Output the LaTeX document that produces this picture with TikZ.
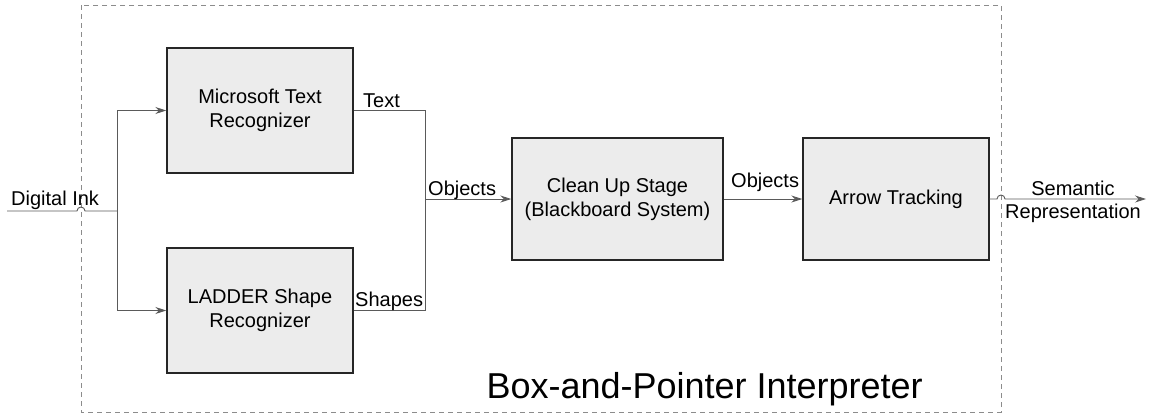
\documentclass[tikz,border=0pt]{standalone}
\usepackage{fontspec}
\setmainfont{Liberation Sans}
\usetikzlibrary{arrows.meta}
\definecolor{boxfill}{HTML}{ECECEC}
\definecolor{wire}{HTML}{5A5A5A}
\definecolor{frameline}{HTML}{8C8C8C}
\tikzset{
  stage/.style={draw=black!85, line width=1.4pt, fill=boxfill, align=center,
    font=\fontsize{20}{24}\selectfont, inner sep=0pt},
  wireline/.style={draw=wire, line width=0.9pt},
  flow/.style={wireline, -{Stealth[length=11pt,width=7pt]}},
  tag/.style={inner sep=0pt, anchor=base west, font=\fontsize{20}{24}\selectfont},
  frame/.style={draw=frameline, line width=0.8pt, dash pattern=on 5pt off 4pt}
}
\begin{document}
\begin{tikzpicture}[x=1pt,y=-1pt]
\useasboundingbox (0,0) rectangle (1151,416);

% enclosing interpreter boundary
\draw[frame] (81,5) rectangle (1001,412);
\node[anchor=base east, inner sep=0pt, font=\fontsize{36}{40}\selectfont] (title) at (923,398) {Box-and-Pointer Interpreter};

% processing stages
\node[stage, minimum width=186pt, minimum height=125pt] (ms) at (260,110.5) {Microsoft Text\\Recognizer};
\node[stage, minimum width=186pt, minimum height=125pt] (ld) at (260,310.5) {LADDER Shape\\Recognizer};
\node[stage, minimum width=211pt, minimum height=122pt] (cu) at (617.5,199) {Clean Up Stage\\(Blackboard System)};
\node[stage, minimum width=186pt, minimum height=122pt] (at) at (896,199) {Arrow Tracking};

% junction points
\coordinate (in) at (7,211);
\coordinate (hopA) at (77,211);
\coordinate (jn) at (117,211);
\coordinate (mg) at (425,199);
\coordinate (hopB) at (997,199);
\coordinate (out) at (1146,199);

% connectors (small hops where the wires cross the dashed boundary)
\draw[wireline] (in) -- (hopA) arc[start angle=180, end angle=0, radius=4pt] -- (jn);
\draw[flow] (jn) |- (ms.west);
\draw[flow] (jn) |- (ld.west);
\draw[wireline] (ms.east) -| (mg);
\draw[wireline] (ld.east) -| (mg);
\draw[flow] (mg) -- (cu.west);
\draw[flow] (cu.east) -- (at.west);
\draw[flow] (at.east) -- (hopB) arc[start angle=180, end angle=0, radius=4pt] -- (out);

% connector labels
\node[tag] (lin) at (11,205) {Digital Ink};
\node[tag] (ltext) at (363,107) {Text};
\node[tag] (lshapes) at (355,306) {Shapes};
\node[tag] (lobj1) at (428,195) {Objects};
\node[tag] (lobj2) at (731,187) {Objects};
\node[tag, anchor=base] (lsem) at (1073,195) {Semantic};
\node[tag, anchor=base] (lrep) at (1073,218) {Representation};
\end{tikzpicture}
\end{document}
